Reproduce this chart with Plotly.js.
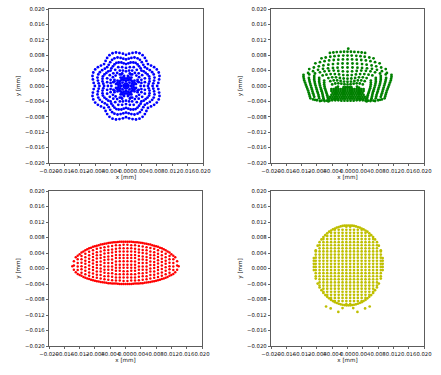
<!DOCTYPE html>
<html><head><meta charset="utf-8">
<script src="https://cdn.plot.ly/plotly-3.0.1.min.js"></script>
<style>html,body{margin:0;padding:0;background:#fff}#chart{width:441px;height:375px}</style>
</head><body><div id="chart"></div>
<script>
// ---- tick labels (axis values in mm) ----
const tickValsMm = [-0.020,-0.016,-0.012,-0.008,-0.004,0.000,0.004,0.008,0.012,0.016,0.020];
const tickText = ['\u22120.020','\u22120.016','\u22120.012','\u22120.008','\u22120.004','0.000','0.004','0.008','0.012','0.016','0.020'];
const xTitle = 'x [mm]';
const yTitle = 'y [mm]';
const UM = 0.001; // spot coordinates below are written in micrometres

// ---- panel 1 (blue) spot points, [x, y] in µm ----
const bluePts = [
[8.1,0],[0,8.1],[-8.1,0],[0,-8.1],
[8.4,0.8],[0.8,8.4],[-8.4,0.8],[-0.8,8.4],[8.4,-0.8],[0.8,-8.4],[-8.4,-0.8],[-0.8,-8.4],
[8.6,1.7],[1.7,8.6],[-8.6,1.7],[-1.7,8.6],[8.6,-1.7],[1.7,-8.6],[-8.6,-1.7],[-1.7,-8.6],
[8.7,2.6],[2.6,8.7],[-8.7,2.6],[-2.6,8.7],[8.7,-2.6],[2.6,-8.7],[-8.7,-2.6],[-2.6,-8.7],
[8.5,3.5],[3.5,8.5],[-8.5,3.5],[-3.5,8.5],[8.5,-3.5],[3.5,-8.5],[-8.5,-3.5],[-3.5,-8.5],
[8.0,4.3],[4.3,8.0],[-8.0,4.3],[-4.3,8.0],[8.0,-4.3],[4.3,-8.0],[-8.0,-4.3],[-4.3,-8.0],
[7.3,4.9],[4.9,7.3],[-7.3,4.9],[-4.9,7.3],[7.3,-4.9],[4.9,-7.3],[-7.3,-4.9],[-4.9,-7.3],
[6.5,5.3],[5.3,6.5],[-6.5,5.3],[-5.3,6.5],[6.5,-5.3],[5.3,-6.5],[-6.5,-5.3],[-5.3,-6.5],
[5.7,5.7],[-5.7,5.7],[5.7,-5.7],[-5.7,-5.7],
[6.9,0],[0,6.9],[-6.9,0],[0,-6.9],
[7.1,0.7],[0.7,7.1],[-7.1,0.7],[-0.7,7.1],[7.1,-0.7],[0.7,-7.1],[-7.1,-0.7],[-0.7,-7.1],
[7.3,1.4],[1.4,7.3],[-7.3,1.4],[-1.4,7.3],[7.3,-1.4],[1.4,-7.3],[-7.3,-1.4],[-1.4,-7.3],
[7.4,2.2],[2.2,7.4],[-7.4,2.2],[-2.2,7.4],[7.4,-2.2],[2.2,-7.4],[-7.4,-2.2],[-2.2,-7.4],
[7.2,3.0],[3.0,7.2],[-7.2,3.0],[-3.0,7.2],[7.2,-3.0],[3.0,-7.2],[-7.2,-3.0],[-3.0,-7.2],
[6.8,3.6],[3.6,6.8],[-6.8,3.6],[-3.6,6.8],[6.8,-3.6],[3.6,-6.8],[-6.8,-3.6],[-3.6,-6.8],
[6.2,4.1],[4.1,6.2],[-6.2,4.1],[-4.1,6.2],[6.2,-4.1],[4.1,-6.2],[-6.2,-4.1],[-4.1,-6.2],
[5.5,4.5],[4.5,5.5],[-5.5,4.5],[-4.5,5.5],[5.5,-4.5],[4.5,-5.5],[-5.5,-4.5],[-4.5,-5.5],
[4.9,4.9],[-4.9,4.9],[4.9,-4.9],[-4.9,-4.9],
[5.7,0],[0,5.7],[-5.7,0],[0,-5.7],
[5.9,0.6],[0.6,5.9],[-5.9,0.6],[-0.6,5.9],[5.9,-0.6],[0.6,-5.9],[-5.9,-0.6],[-0.6,-5.9],
[6.1,1.2],[1.2,6.1],[-6.1,1.2],[-1.2,6.1],[6.1,-1.2],[1.2,-6.1],[-6.1,-1.2],[-1.2,-6.1],
[6.1,1.9],[1.9,6.1],[-6.1,1.9],[-1.9,6.1],[6.1,-1.9],[1.9,-6.1],[-6.1,-1.9],[-1.9,-6.1],
[6.0,2.5],[2.5,6.0],[-6.0,2.5],[-2.5,6.0],[6.0,-2.5],[2.5,-6.0],[-6.0,-2.5],[-2.5,-6.0],
[5.6,3.0],[3.0,5.6],[-5.6,3.0],[-3.0,5.6],[5.6,-3.0],[3.0,-5.6],[-5.6,-3.0],[-3.0,-5.6],
[5.1,3.4],[3.4,5.1],[-5.1,3.4],[-3.4,5.1],[5.1,-3.4],[3.4,-5.1],[-5.1,-3.4],[-3.4,-5.1],
[4.6,3.8],[3.8,4.6],[-4.6,3.8],[-3.8,4.6],[4.6,-3.8],[3.8,-4.6],[-4.6,-3.8],[-3.8,-4.6],
[4.0,4.0],[-4.0,4.0],[4.0,-4.0],[-4.0,-4.0],
[4.7,0],[0,4.7],[-4.7,0],[0,-4.7],
[4.9,1.0],[1.0,4.9],[-4.9,1.0],[-1.0,4.9],[4.9,-1.0],[1.0,-4.9],[-4.9,-1.0],[-1.0,-4.9],
[4.9,2.0],[2.0,4.9],[-4.9,2.0],[-2.0,4.9],[4.9,-2.0],[2.0,-4.9],[-4.9,-2.0],[-2.0,-4.9],
[4.2,2.8],[2.8,4.2],[-4.2,2.8],[-2.8,4.2],[4.2,-2.8],[2.8,-4.2],[-4.2,-2.8],[-2.8,-4.2],
[3.3,3.3],[-3.3,3.3],[3.3,-3.3],[-3.3,-3.3],
[3.8,0],[0,3.8],[-3.8,0],[0,-3.8],
[4.0,0.8],[0.8,4.0],[-4.0,0.8],[-0.8,4.0],[4.0,-0.8],[0.8,-4.0],[-4.0,-0.8],[-0.8,-4.0],
[4.0,1.6],[1.6,4.0],[-4.0,1.6],[-1.6,4.0],[4.0,-1.6],[1.6,-4.0],[-4.0,-1.6],[-1.6,-4.0],
[3.4,2.3],[2.3,3.4],[-3.4,2.3],[-2.3,3.4],[3.4,-2.3],[2.3,-3.4],[-3.4,-2.3],[-2.3,-3.4],
[2.7,2.7],[-2.7,2.7],[2.7,-2.7],[-2.7,-2.7],
[3.3,1.0],[1.0,3.3],[-3.3,1.0],[-1.0,3.3],[3.3,-1.0],[1.0,-3.3],[-3.3,-1.0],[-1.0,-3.3],
[3.0,1.6],[1.6,3.0],[-3.0,1.6],[-1.6,3.0],[3.0,-1.6],[1.6,-3.0],[-3.0,-1.6],[-1.6,-3.0],
[3.0,1.2],[1.2,3.0],[-3.0,1.2],[-1.2,3.0],[3.0,-1.2],[1.2,-3.0],[-3.0,-1.2],[-1.2,-3.0],
[2.6,0.5],[0.5,2.6],[-2.6,0.5],[-0.5,2.6],[2.6,-0.5],[0.5,-2.6],[-2.6,-0.5],[-0.5,-2.6],
[2.2,1.4],[1.4,2.2],[-2.2,1.4],[-1.4,2.2],[2.2,-1.4],[1.4,-2.2],[-2.2,-1.4],[-1.4,-2.2],
[2.2,0.9],[0.9,2.2],[-2.2,0.9],[-0.9,2.2],[2.2,-0.9],[0.9,-2.2],[-2.2,-0.9],[-0.9,-2.2],
[1.5,0.6],[0.6,1.5],[-1.5,0.6],[-0.6,1.5],[1.5,-0.6],[0.6,-1.5],[-1.5,-0.6],[-0.6,-1.5],
[2.0,0.4],[0.4,2.0],[-2.0,0.4],[-0.4,2.0],[2.0,-0.4],[0.4,-2.0],[-2.0,-0.4],[-0.4,-2.0],
[1.7,1.1],[1.1,1.7],[-1.7,1.1],[-1.1,1.7],[1.7,-1.1],[1.1,-1.7],[-1.7,-1.1],[-1.1,-1.7],
[1.9,0],[0,1.9],[-1.9,0],[0,-1.9],
[1.4,1.4],[-1.4,1.4],[1.4,-1.4],[-1.4,-1.4],
[1.3,0],[0,1.3],[-1.3,0],[0,-1.3],
[0.9,0.9],[-0.9,0.9],[0.9,-0.9],[-0.9,-0.9],
[0.6,0.2],[0.2,0.6],[-0.6,0.2],[-0.2,0.6],[0.6,-0.2],[0.2,-0.6],[-0.6,-0.2],[-0.2,-0.6],
[0,0]
];

// ---- panel 2 (green) spot points, [x, y] in µm ----
const greenPts = [
[0.2,9.7],
[-4.6,8.6],[-3.7,8.7],[-2.8,8.8],[-1.8,8.85],[-0.9,8.9],[0,8.9],[0.9,8.9],[1.8,8.85],[2.8,8.8],[3.7,8.7],[4.6,8.6],
[-6.8,7.2],[-5.7,7.4],[-4.5,7.6],[-3.4,7.75],[-2.3,7.85],[-1.1,7.9],[0,7.9],[1.1,7.9],[2.3,7.85],[3.4,7.75],[4.5,7.6],[5.7,7.4],[6.8,7.2],
[-8.4,5.9],[-7.2,6.2],[-6.0,6.45],[-4.8,6.65],[-3.6,6.75],[-2.4,6.85],[-1.2,6.9],[0,6.9],[1.2,6.9],[2.4,6.85],[3.6,6.75],[4.8,6.65],[6.0,6.45],[7.2,6.2],[8.4,5.9],
[-10.0,4.4],[-8.8,4.8],[-7.5,5.1],[-6.3,5.35],[-5.0,5.55],[-3.8,5.7],[-2.5,5.8],[-1.3,5.85],[0,5.85],[1.3,5.85],[2.5,5.8],[3.8,5.7],[5.0,5.55],[6.3,5.35],[7.5,5.1],[8.8,4.8],[10.0,4.4],
[-11.5,2.9],[-10.3,3.4],[-9.0,3.85],[-7.7,4.2],[-6.4,4.45],[-5.1,4.6],[-3.8,4.7],[-2.6,4.75],[-1.3,4.8],[0,4.8],[1.3,4.8],[2.6,4.75],[3.8,4.7],[5.1,4.6],[6.4,4.45],[7.7,4.2],[9.0,3.85],[10.3,3.4],[11.5,2.9],
[-11.5,2.4],[-11.4,1.9],[-11.3,1.4],[-11.1,0.9],[-10.9,0.35],[-10.7,-0.2],[-10.5,-0.7],[-10.3,-1.2],[-10.15,-1.7],[-10.0,-2.2],[-9.85,-2.7],[-9.7,-3.2],
[11.5,2.4],[11.4,1.9],[11.3,1.4],[11.1,0.9],[10.9,0.35],[10.7,-0.2],[10.5,-0.7],[10.3,-1.2],[10.15,-1.7],[10.0,-2.2],[9.85,-2.7],[9.7,-3.2],
[-10.0,3.0],[-10.1,2.1],[-10.0,1.6],[-9.9,1.1],[-9.75,0.6],[-9.6,0.1],[-9.45,-0.4],[-9.3,-0.9],[-9.15,-1.4],[-9.0,-1.9],[-8.85,-2.35],[-8.7,-2.8],[-8.5,-3.6],
[10.0,3.0],[10.1,2.1],[10.0,1.6],[9.9,1.1],[9.75,0.6],[9.6,0.1],[9.45,-0.4],[9.3,-0.9],[9.15,-1.4],[9.0,-1.9],[8.85,-2.35],[8.7,-2.8],[8.5,-3.6],
[-8.7,2.6],[-8.7,2.1],[-8.7,1.6],[-8.6,1.1],[-8.5,0.6],[-8.35,0.1],[-8.2,-0.4],[-8.05,-0.9],[-7.9,-1.4],[-7.75,-1.85],[-7.6,-2.3],[-7.5,-2.75],[-7.4,-3.2],[-7.2,-3.9],
[8.7,2.6],[8.7,2.1],[8.7,1.6],[8.6,1.1],[8.5,0.6],[8.35,0.1],[8.2,-0.4],[8.05,-0.9],[7.9,-1.4],[7.75,-1.85],[7.6,-2.3],[7.5,-2.75],[7.4,-3.2],[7.2,-3.9],
[-7.4,2.1],[-7.4,1.6],[-7.4,1.1],[-7.3,0.6],[-7.2,0.1],[-7.05,-0.4],[-6.9,-0.9],[-6.75,-1.35],[-6.6,-1.8],[-6.5,-2.25],[-6.4,-2.7],[-6.3,-3.15],[-6.2,-3.6],
[7.4,2.1],[7.4,1.6],[7.4,1.1],[7.3,0.6],[7.2,0.1],[7.05,-0.4],[6.9,-0.9],[6.75,-1.35],[6.6,-1.8],[6.5,-2.25],[6.4,-2.7],[6.3,-3.15],[6.2,-3.6],
[-6.1,1.4],[-6.1,0.9],[-6.1,0.4],[-6.0,-0.1],[-5.9,-0.6],[-5.75,-1.05],[-5.6,-1.5],[-5.45,-1.95],[-5.3,-2.4],[-5.2,-2.85],[-5.1,-3.3],[-5.0,-4.0],
[6.1,1.4],[6.1,0.9],[6.1,0.4],[6.0,-0.1],[5.9,-0.6],[5.75,-1.05],[5.6,-1.5],[5.45,-1.95],[5.3,-2.4],[5.2,-2.85],[5.1,-3.3],[5.0,-4.0],
[0,3.75],[1.2,3.8],[-1.2,3.8],[2.4,3.9],[-2.4,3.9],[3.6,4.0],[-3.6,4.0],[4.8,3.95],[-4.8,3.95],[6.0,3.8],[-6.0,3.8],[7.2,3.55],[-7.2,3.55],[8.5,3.25],[-8.5,3.25],
[0,2.8],[1.1,2.85],[-1.1,2.85],[2.2,3.0],[-2.2,3.0],[3.3,3.1],[-3.3,3.1],[4.4,3.1],[-4.4,3.1],[5.5,2.95],[-5.5,2.95],[6.5,2.75],[-6.5,2.75],
[0,1.9],[1.0,1.95],[-1.0,1.95],[2.0,2.1],[-2.0,2.1],[3.0,2.25],[-3.0,2.25],[4.0,2.25],[-4.0,2.25],[5.0,2.05],[-5.0,2.05],
[0,1.1],[0.9,1.15],[-0.9,1.15],[1.8,1.3],[-1.8,1.3],[2.7,1.45],[-2.7,1.45],[3.6,1.45],[-3.6,1.45],[4.5,1.25],[-4.5,1.25],
[0,0.4],[0.8,0.45],[-0.8,0.45],[1.6,0.6],[-1.6,0.6],[2.4,0.7],[-2.4,0.7],[3.2,0.65],[-3.2,0.65],[4.0,0.4],[-4.0,0.4],
[-1.0,-0.3],[-0.5,-0.3],[0,-0.3],[0.5,-0.3],[1.0,-0.3],[-3.0,-0.4],[3.0,-0.4],[-2.5,-0.2],[2.5,-0.2],
[-4.2,-0.8],[-3.6,-0.8],[-3.0,-0.8],[-2.4,-0.8],[-1.8,-0.8],[-1.2,-0.8],[-0.6,-0.8],[0,-0.8],[0.6,-0.8],[1.2,-0.8],[1.8,-0.8],[2.4,-0.8],[3.0,-0.8],[3.6,-0.8],[4.2,-0.8],
[-4.2,-1.3],[-3.6,-1.3],[-3.0,-1.3],[-2.4,-1.3],[-1.8,-1.3],[-1.2,-1.3],[-0.6,-1.3],[0,-1.3],[0.6,-1.3],[1.2,-1.3],[1.8,-1.3],[2.4,-1.3],[3.0,-1.3],[3.6,-1.3],[4.2,-1.3],
[-3.9,-1.8],[-3.3,-1.8],[-2.7,-1.8],[-2.1,-1.8],[-1.5,-1.8],[-0.9,-1.8],[-0.3,-1.8],[0.3,-1.8],[0.9,-1.8],[1.5,-1.8],[2.1,-1.8],[2.7,-1.8],[3.3,-1.8],[3.9,-1.8],
[-4.2,-2.3],[-3.6,-2.3],[-3.0,-2.3],[-2.4,-2.3],[-1.8,-2.3],[-1.2,-2.3],[-0.6,-2.3],[0,-2.3],[0.6,-2.3],[1.2,-2.3],[1.8,-2.3],[2.4,-2.3],[3.0,-2.3],[3.6,-2.3],[4.2,-2.3],
[-4.5,-2.8],[-3.9,-2.8],[-3.3,-2.8],[-2.7,-2.8],[-2.1,-2.8],[-1.5,-2.8],[-0.9,-2.8],[-0.3,-2.8],[0.3,-2.8],[0.9,-2.8],[1.5,-2.8],[2.1,-2.8],[2.7,-2.8],[3.3,-2.8],[3.9,-2.8],[4.5,-2.8],
[-4.8,-3.3],[-4.2,-3.3],[-3.6,-3.3],[-3.0,-3.3],[-2.4,-3.3],[-1.8,-3.3],[-1.2,-3.3],[-0.6,-3.3],[0,-3.3],[0.6,-3.3],[1.2,-3.3],[1.8,-3.3],[2.4,-3.3],[3.0,-3.3],[3.6,-3.3],[4.2,-3.3],[4.8,-3.3],
[-5.4,-3.8],[-4.7,-3.8],[-4.0,-3.7],[-3.2,-3.7],[-2.4,-3.7],[-1.6,-3.8],[-0.8,-3.8],[0,-3.8],[0.8,-3.8],[1.6,-3.8],[2.4,-3.7],[3.2,-3.7],[4.0,-3.7],[4.7,-3.8],[5.4,-3.8],
[-9.0,-3.5],[-8.0,-3.7],[-6.8,-3.8],[-6.0,-3.9],[6.0,-3.9],[6.8,-3.8],[8.0,-3.7],[9.0,-3.5]
];

// ---- panel 3 (red) spot: columns [x, [y values]] in µm ----
const redCols = [
[-13.9,[0.6]],
[-13.5,[-0.3,0.8,1.9]],
[-13,[-0.95,2.9]],
[-12.5,[-1.4,-0.4,0.5,1.4,2.4,3.3]],
[-12,[-1.65,3.7]],
[-11.5,[-1.9,-1.1,-0.2,0.6,1.5,2.4,3.2,4.1]],
[-11,[-2.2,4.4]],
[-10.5,[-2.4,-1.5,-0.6,0.3,1.2,2.0,2.9,3.8,4.7]],
[-10,[-2.55,4.94]],
[-9.5,[-2.7,-1.9,-1.0,-0.1,0.8,1.7,2.5,3.4,4.3,5.2]],
[-9,[-2.9,5.38]],
[-8.5,[-3.0,-2.2,-1.3,-0.4,0.4,1.3,2.1,3.0,3.8,4.7,5.6]],
[-8,[-3.15,5.73]],
[-7.5,[-3.3,-2.4,-1.6,-0.8,0.1,0.9,1.7,2.6,3.4,4.2,5.1,5.9]],
[-7,[-3.35,6.03]],
[-6.5,[-3.5,-2.6,-1.7,-0.8,0.0,0.9,1.8,2.7,3.5,4.4,5.3,6.2]],
[-6,[-3.55,6.27]],
[-5.5,[-3.6,-2.8,-2.0,-1.1,-0.3,0.5,1.4,2.2,3.0,3.9,4.7,5.5,6.4]],
[-5,[-3.7,6.47]],
[-4.5,[-3.8,-2.9,-2.0,-1.2,-0.3,0.5,1.4,2.3,3.1,4.0,4.8,5.7,6.6]],
[-4,[-3.8,6.63]],
[-3.5,[-3.9,-3.0,-2.1,-1.2,-0.3,0.5,1.4,2.3,3.2,4.1,4.9,5.8,6.7]],
[-3,[-3.9,6.75]],
[-2.5,[-3.9,-3.1,-2.3,-1.5,-0.6,0.2,1.0,1.8,2.7,3.5,4.3,5.1,6.0,6.8]],
[-2,[-3.95,6.83]],
[-1.5,[-4.0,-3.1,-2.3,-1.5,-0.6,0.2,1.0,1.9,2.7,3.5,4.4,5.2,6.0,6.9]],
[-1,[-4.0,6.9]],
[-0.5,[-4.0,-3.2,-2.3,-1.5,-0.7,0.2,1.0,1.9,2.7,3.5,4.4,5.2,6.1,6.9]],
[0,[-4.0,6.9]],
[0.5,[-4.0,-3.2,-2.3,-1.5,-0.7,0.2,1.0,1.9,2.7,3.5,4.4,5.2,6.1,6.9]],
[1,[-4.0,6.9]],
[1.5,[-4.0,-3.1,-2.3,-1.5,-0.6,0.2,1.0,1.9,2.7,3.5,4.4,5.2,6.0,6.9]],
[2,[-3.95,6.83]],
[2.5,[-3.9,-3.1,-2.3,-1.5,-0.6,0.2,1.0,1.8,2.7,3.5,4.3,5.1,6.0,6.8]],
[3,[-3.9,6.75]],
[3.5,[-3.9,-3.0,-2.1,-1.2,-0.3,0.5,1.4,2.3,3.2,4.1,4.9,5.8,6.7]],
[4,[-3.8,6.63]],
[4.5,[-3.8,-2.9,-2.0,-1.2,-0.3,0.5,1.4,2.3,3.1,4.0,4.8,5.7,6.6]],
[5,[-3.7,6.47]],
[5.5,[-3.6,-2.8,-2.0,-1.1,-0.3,0.5,1.4,2.2,3.0,3.9,4.7,5.5,6.4]],
[6,[-3.55,6.27]],
[6.5,[-3.5,-2.6,-1.7,-0.8,0.0,0.9,1.8,2.7,3.5,4.4,5.3,6.2]],
[7,[-3.35,6.03]],
[7.5,[-3.3,-2.4,-1.6,-0.8,0.1,0.9,1.7,2.6,3.4,4.2,5.1,5.9]],
[8,[-3.15,5.73]],
[8.5,[-3.0,-2.2,-1.3,-0.4,0.4,1.3,2.1,3.0,3.8,4.7,5.6]],
[9,[-2.9,5.38]],
[9.5,[-2.7,-1.9,-1.0,-0.1,0.8,1.7,2.5,3.4,4.3,5.2]],
[10,[-2.55,4.94]],
[10.5,[-2.4,-1.5,-0.6,0.3,1.2,2.0,2.9,3.8,4.7]],
[11,[-2.2,4.4]],
[11.5,[-1.9,-1.1,-0.2,0.6,1.5,2.4,3.2,4.1]],
[12,[-1.65,3.7]],
[12.5,[-1.4,-0.4,0.5,1.4,2.4,3.3]],
[13,[-0.95,2.9]],
[13.5,[-0.3,0.8,1.9]],
[13.9,[0.6]]
];

// ---- panel 4 (yellow) spot: columns [x, [y values]] in µm, rim points and stray rays ----
const yellowCols = [
[-8.8,[-0.4,0.4,1.2,2.0,2.7]],
[-8.3,[-2.6,-2.0,-1.2,-0.4,0.4,1.2,2.0,2.8,3.6,4.4,4.7]],
[-7.3,[-4.9,-4.4,-3.6,-2.8,-2.0,-1.2,-0.4,0.4,1.2,2.0,2.8,3.6,4.4,5.2,6.0,6.8]],
[-6.3,[-6.3,-6.0,-5.2,-4.4,-3.6,-2.8,-2.0,-1.2,-0.4,0.4,1.2,2.0,2.8,3.6,4.4,5.2,6.0,6.8,7.6,8.1]],
[-5.3,[-7.3,-6.8,-6.0,-5.2,-4.4,-3.6,-2.8,-2.0,-1.2,-0.4,0.4,1.2,2.0,2.8,3.6,4.4,5.2,6.0,6.8,7.6,8.4,9.1]],
[-4.3,[-8.1,-7.6,-6.8,-6.0,-5.2,-4.4,-3.6,-2.8,-2.0,-1.2,-0.4,0.4,1.2,2.0,2.8,3.6,4.4,5.2,6.0,6.8,7.6,8.4,9.2,9.8]],
[-3.3,[-8.7,-8.4,-7.6,-6.8,-6.0,-5.2,-4.4,-3.6,-2.8,-2.0,-1.2,-0.4,0.4,1.2,2.0,2.8,3.6,4.4,5.2,6.0,6.8,7.6,8.4,9.2,10.0,10.3]],
[-2.3,[-9.1,-8.4,-7.6,-6.8,-6.0,-5.2,-4.4,-3.6,-2.8,-2.0,-1.2,-0.4,0.4,1.2,2.0,2.8,3.6,4.4,5.2,6.0,6.8,7.6,8.4,9.2,10.0,10.7]],
[-1.3,[-9.35,-8.4,-7.6,-6.8,-6.0,-5.2,-4.4,-3.6,-2.8,-2.0,-1.2,-0.4,0.4,1.2,2.0,2.8,3.6,4.4,5.2,6.0,6.8,7.6,8.4,9.2,10.0,11.0]],
[-0.3,[-9.5,-9.2,-8.4,-7.6,-6.8,-6.0,-5.2,-4.4,-3.6,-2.8,-2.0,-1.2,-0.4,0.4,1.2,2.0,2.8,3.6,4.4,5.2,6.0,6.8,7.6,8.4,9.2,10.0,10.8,11.1]],
[0.7,[-9.5,-9.2,-8.4,-7.6,-6.8,-6.0,-5.2,-4.4,-3.6,-2.8,-2.0,-1.2,-0.4,0.4,1.2,2.0,2.8,3.6,4.4,5.2,6.0,6.8,7.6,8.4,9.2,10.0,10.8,11.1]],
[1.7,[-9.35,-8.4,-7.6,-6.8,-6.0,-5.2,-4.4,-3.6,-2.8,-2.0,-1.2,-0.4,0.4,1.2,2.0,2.8,3.6,4.4,5.2,6.0,6.8,7.6,8.4,9.2,10.0,11.0]],
[2.7,[-9.1,-8.4,-7.6,-6.8,-6.0,-5.2,-4.4,-3.6,-2.8,-2.0,-1.2,-0.4,0.4,1.2,2.0,2.8,3.6,4.4,5.2,6.0,6.8,7.6,8.4,9.2,10.0,10.7]],
[3.7,[-8.7,-8.4,-7.6,-6.8,-6.0,-5.2,-4.4,-3.6,-2.8,-2.0,-1.2,-0.4,0.4,1.2,2.0,2.8,3.6,4.4,5.2,6.0,6.8,7.6,8.4,9.2,10.0,10.3]],
[4.7,[-8.1,-7.6,-6.8,-6.0,-5.2,-4.4,-3.6,-2.8,-2.0,-1.2,-0.4,0.4,1.2,2.0,2.8,3.6,4.4,5.2,6.0,6.8,7.6,8.4,9.2,9.8]],
[5.7,[-7.3,-6.8,-6.0,-5.2,-4.4,-3.6,-2.8,-2.0,-1.2,-0.4,0.4,1.2,2.0,2.8,3.6,4.4,5.2,6.0,6.8,7.6,8.4,9.1]],
[6.7,[-6.3,-6.0,-5.2,-4.4,-3.6,-2.8,-2.0,-1.2,-0.4,0.4,1.2,2.0,2.8,3.6,4.4,5.2,6.0,6.8,7.6,8.1]],
[7.7,[-4.9,-4.4,-3.6,-2.8,-2.0,-1.2,-0.4,0.4,1.2,2.0,2.8,3.6,4.4,5.2,6.0,6.8]],
[8.7,[-2.6,-2.0,-1.2,-0.4,0.4,1.2,2.0,2.8,3.6,4.4,4.7]],
[9.2,[-0.4,0.4,1.2,2.0,2.7]],
[-7.8,[-3.9,5.9]],[-6.8,[-5.6,7.5]],[-5.8,[-6.85,8.6]],[-4.8,[-7.7,9.5]],[-3.8,[-8.4,10.1]],
[-2.8,[-8.9,10.55]],[-1.8,[-9.25,10.85]],[-0.8,[-9.45,11.05]],[0.2,[-9.5,11.1]],
[1.2,[-9.45,11.05]],[2.2,[-9.25,10.85]],[3.2,[-8.9,10.55]],[4.2,[-8.4,10.1]],[5.2,[-7.7,9.5]],
[6.2,[-6.85,8.6]],[7.2,[-5.6,7.5]],[8.2,[-3.9,5.9]]
];
const yellowStray = [[-5.6,-9.8],[-4.4,-10.3],[-2.4,-11.2],[-1.3,-10.2],[1.5,-10.2],[2.6,-11.2],[4.6,-10.3],[5.8,-9.8]];

// ---- helpers: unit conversion µm -> mm only ----
function fromPairs(p){ return {x:p.map(q=>q[0]*UM), y:p.map(q=>q[1]*UM)}; }
function fromCols(cols){ const x=[],y=[]; cols.forEach(c=>c[1].forEach(v=>{x.push(c[0]*UM); y.push(v*UM);})); return {x,y}; }

const b = fromPairs(bluePts), g = fromPairs(greenPts), r = fromCols(redCols), yc = fromCols(yellowCols), ys = fromPairs(yellowStray);

function tr(d, color, xa, ya, size){
  return {type:'scatter', mode:'markers', x:d.x, y:d.y, xaxis:xa, yaxis:ya,
    marker:{size:size, color:color, line:{width:0}}, hoverinfo:'skip', showlegend:false};
}
const data = [
  tr(b,'#0000ff','x','y',2.8),
  tr(g,'#008000','x2','y2',2.8),
  tr(r,'#ff0000','x3','y3',2.5),
  tr(yc,'#bfbf00','x4','y4',2.7),
  tr(ys,'#bfbf00','x4','y4',2.7)
];

const W=441, H=375;
function xax(l, rr, anchor){
  return {domain:[l/W, rr/W], anchor:anchor, range:[-0.02,0.02], tickmode:'array', tickvals:tickValsMm, ticktext:tickText,
    tickangle:0, ticks:'outside', ticklen:2.5, tickwidth:0.7, tickcolor:'#222', showline:true, linecolor:'#333', linewidth:0.8,
    mirror:true, showgrid:false, zeroline:false, tickfont:{size:5.3, color:'#111'},
    title:{text:xTitle, font:{size:5.6, color:'#111'}, standoff:2}, fixedrange:true};
}
function yax(t, bt, anchor){
  return {domain:[1-bt/H, 1-t/H], anchor:anchor, range:[-0.02,0.02], tickmode:'array', tickvals:tickValsMm, ticktext:tickText,
    ticks:'outside', ticklen:2.5, tickwidth:0.7, tickcolor:'#222', showline:true, linecolor:'#333', linewidth:0.8,
    mirror:true, showgrid:false, zeroline:false, tickfont:{size:5.3, color:'#111'},
    title:{text:yTitle, font:{size:5.6, color:'#111'}, standoff:3}, fixedrange:true};
}
const layout = {
  width:W, height:H, margin:{l:0,r:0,t:0,b:0}, paper_bgcolor:'#ffffff', plot_bgcolor:'#ffffff',
  font:{family:'DejaVu Sans, sans-serif', size:5.3, color:'#111'}, showlegend:false,
  xaxis: xax(49,203,'y'),  yaxis: yax(9,163,'x'),
  xaxis2:xax(271,424,'y2'), yaxis2:yax(9,163,'x2'),
  xaxis3:xax(49,202,'y3'), yaxis3:yax(191,346,'x3'),
  xaxis4:xax(271,424,'y4'), yaxis4:yax(191,346,'x4')
};
Plotly.newPlot('chart', data, layout, {staticPlot:true, displayModeBar:false});
</script>
</body></html>
